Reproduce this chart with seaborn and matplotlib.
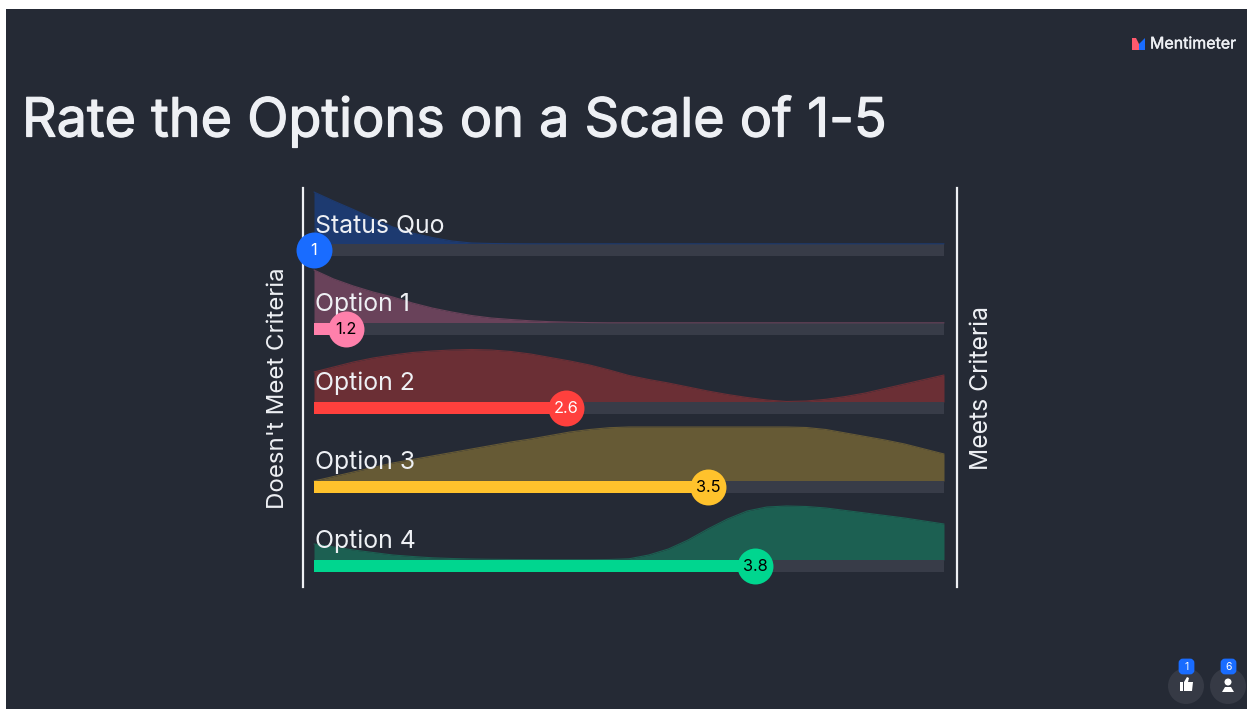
import matplotlib
matplotlib.use("Agg")
import matplotlib.pyplot as plt
import matplotlib.patheffects as pe
import numpy as np
import pandas as pd
import seaborn as sns
from matplotlib.patches import Rectangle, Circle, FancyBboxPatch, Polygon

BG = "#252a35"
TEXT = "#eef0f4"
TRACK = "#383c48"
FONT = ["Inter", "DejaVu Sans"]

# Rating scale positions at which the curves were read
scale = [1 + 0.125 * i for i in range(33)]

option_names = ["Status Quo", "Option 1", "Option 2", "Option 3", "Option 4"]
mean_scores = [1.0, 1.2, 2.6, 3.5, 3.8]
score_labels = ["1", "1.2", "2.6", "3.5", "3.8"]
bar_colors = ["#196cff", "#ff80ab", "#ff403d", "#ffc22c", "#00d68f"]
area_colors = ["#1d3a70", "#69425a", "#6b2f35", "#665a35", "#1c6052"]
score_text_colors = ["white", "black", "white", "black", "black"]

status_quo = [52, 43, 34.5, 25.5, 17, 11, 6.5, 3, 1, 0.5, 0.3, 0.2, 0.2, 0.2, 0.2, 0.2, 0.2,
              0.2, 0.2, 0.2, 0.2, 0.2, 0.2, 0.2, 0.2, 0.2, 0.2, 0.2, 0.2, 0.2, 0.2, 0.2, 0.2]
option_1 = [53, 44, 37, 31, 26, 20, 15, 11, 7.5, 5, 3.5, 2.2, 1.3, 0.8, 0.4, 0.2, 0.2,
            0.2, 0.2, 0.2, 0.2, 0.2, 0.2, 0.2, 0.2, 0.2, 0.2, 0.2, 0.2, 0.2, 0.2, 0.2, 0.2]
option_2 = [30, 35, 40, 44, 47, 49.5, 51, 52, 52.5, 52, 50.5, 48, 44.5, 41, 37, 32, 26.5,
            22.5, 19, 15, 11, 7.5, 4.5, 2, 0.5, 1, 2.7, 5.5, 9, 13.5, 18, 22.5, 27]
option_3 = [0, 4.5, 9, 13.5, 18, 21.5, 25, 28.5, 32, 35.5, 39, 42, 45.5, 49, 51.5, 53.3, 54,
            54, 54, 54, 54, 54, 54, 54, 54, 53.5, 51.5, 48, 44.5, 41, 37, 32, 27]
option_4 = [16, 13, 10, 7.5, 5, 3.5, 2.2, 1.5, 1, 0.7, 0.5, 0.4, 0.3, 0.3, 0.3, 0.5, 1.2,
            5, 11, 20, 31, 41, 49, 53, 54, 53.5, 52, 49.5, 47, 44.5, 42, 39, 36]
curves = [status_quo, option_1, option_2, option_3, option_4]

sns.set_theme(style="dark", rc={"axes.facecolor": "none", "figure.facecolor": "white"})
plt.rcParams["font.family"] = FONT

W, H = 1247, 709
fig = plt.figure(figsize=(W / 100, H / 100), dpi=100, facecolor="white")

# Slide layer, in picture pixels
slide = fig.add_axes([0, 0, 1, 1], zorder=0)
slide.set_xlim(0, W)
slide.set_ylim(H, 0)
slide.axis("off")
slide.add_patch(Rectangle((6, 9), W - 6, H - 9, color=BG, lw=0))
title = slide.text(22, 136.5, "Rate the Options on a Scale of 1-5", color=TEXT, fontsize=38.8,
                   va="baseline", ha="left")
title.set_path_effects([pe.withStroke(linewidth=0.9, foreground=TEXT)])
brand = slide.text(1150, 44, "Mentimeter", color=TEXT, fontsize=11.5, va="center", ha="left")
brand.set_path_effects([pe.withStroke(linewidth=0.3, foreground=TEXT)])
slide.add_patch(Polygon([(1132, 38), (1136, 38), (1139, 44), (1139, 50), (1132, 50)], color="#ff5a6e", lw=0))
slide.add_patch(Polygon([(1139, 44), (1145, 38), (1145, 50), (1139, 50)], color="#196cff", lw=0))

for cx, label in zip([1186, 1228], ["1", "6"]):
    slide.add_patch(Circle((cx, 686), 18, color="#363a45", lw=0))
    slide.add_patch(FancyBboxPatch((cx - 6, 660), 13, 13, boxstyle="round,pad=0,rounding_size=3",
                                   mutation_scale=1, color="#196cff", lw=2))
    slide.text(cx + 0.5, 666.5, label, color="white", fontsize=7.5, ha="center", va="center")
# thumb icon
slide.add_patch(Rectangle((1180, 682), 3, 9, color="white", lw=0))
slide.add_patch(Polygon([(1184, 682), (1187, 677), (1189, 678), (1188, 682), (1193, 682),
                         (1192, 691), (1184, 691)], color="white", lw=0))
# person icon
slide.add_patch(Circle((1228, 682), 3.5, color="white", lw=0))
slide.add_patch(Polygon([(1225, 687), (1231, 687), (1234, 692), (1222, 692)], color="white", lw=0))

# Chart: the frame lines are the axes' side spines
unit = 157.5
x_left, x_right, y_top, y_bottom = 303, 957, 188, 587
ax = fig.add_axes([x_left / W, 1 - y_bottom / H, (x_right - x_left) / W, (y_bottom - y_top) / H], zorder=1)
ax.set_xlim(1 - 11 / unit, 5 + 13 / unit)
ax.set_ylim(0, y_bottom - y_top)
ax.set_xticks([])
ax.set_yticks([])
ax.grid(False)
for side in ["top", "bottom"]:
    ax.spines[side].set_visible(False)
for side in ["left", "right"]:
    ax.spines[side].set_visible(True)
    ax.spines[side].set_color(TEXT)
    ax.spines[side].set_linewidth(1.6)
fig.text(278 / W, 1 - 388 / H, "Doesn't Meet Criteria", color=TEXT, fontsize=17.3, rotation=90,
         ha="center", va="center")
fig.text(982 / W, 1 - 388 / H, "Meets Criteria", color=TEXT, fontsize=17.8, rotation=90,
         ha="center", va="center")

row_gap = 79
for i, name in enumerate(option_names):
    base = 27 + row_gap * (4 - i)
    frame = pd.DataFrame({"scale": scale, "height": base + np.array(curves[i], dtype=float)})
    ax.fill_between(frame["scale"], base, frame["height"], color=area_colors[i], lw=0, zorder=1)
    ax.barh(base - 6, 4, left=1, height=11.5, color=TRACK, lw=0, zorder=3)
    sns.lineplot(data=frame, x="scale", y="height", ax=ax, color=area_colors[i], lw=0.8, zorder=3.5)
    ax.text(1.005, base + 12, name, color=TEXT, fontsize=17.9, va="baseline", ha="left", zorder=3.8)
    ax.barh(base - 6, mean_scores[i] - 1, left=1, height=11.5, color=bar_colors[i], lw=0, zorder=4)
    sns.scatterplot(x=[mean_scores[i]], y=[base - 6], ax=ax, s=670, color=bar_colors[i],
                    linewidth=0, clip_on=False, zorder=5, legend=False)
    ax.text(mean_scores[i], base - 6.5, score_labels[i], color=score_text_colors[i], fontsize=11.8,
            ha="center", va="center", zorder=6)
ax.set_xlabel("")
ax.set_ylabel("")

fig.savefig("out.png", dpi=100)
